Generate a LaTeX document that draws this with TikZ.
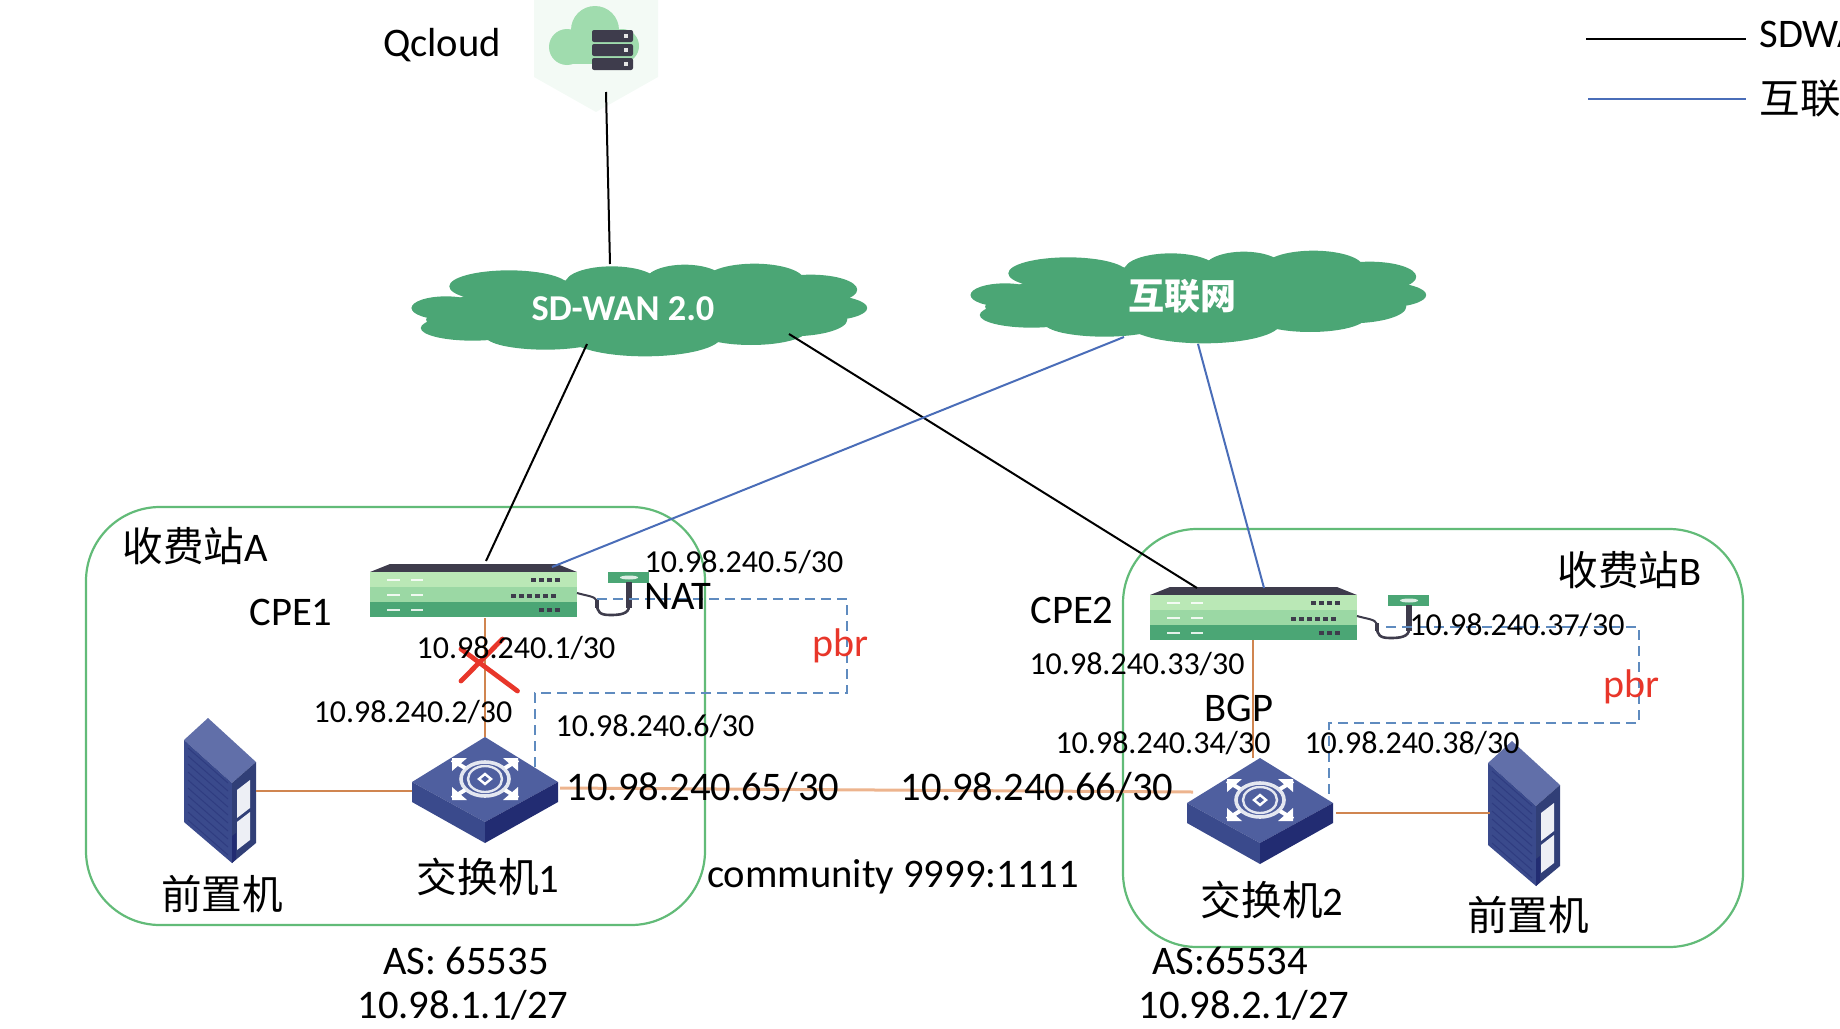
\documentclass[tikz,border=0pt]{standalone}
\usepackage{fontspec}
\setmainfont{Carlito}
\newfontfamily\cjk{Noto Sans CJK SC}
\definecolor{cloudg}{HTML}{4BA675}
\definecolor{rimg}{HTML}{62BB78}
\definecolor{ora}{HTML}{D08550}
\definecolor{oral}{HTML}{EDB48E}
\definecolor{navy}{HTML}{4F5F9F}
\definecolor{navyl}{HTML}{3A4A8C}
\definecolor{navyd}{HTML}{222C72}
\definecolor{blu}{HTML}{4A6DB8}
\definecolor{dashb}{HTML}{5F8BBF}
\definecolor{dark}{HTML}{3E3C4C}
\definecolor{red1}{HTML}{E8362A}
\definecolor{rtA}{HTML}{BAE8B6}
\definecolor{rtB}{HTML}{9BD8A4}
\definecolor{qhex}{HTML}{F3FAF5}
\definecolor{qcl}{HTML}{A0DCAE}
\tikzset{
  x=0.5pt,y=-0.5pt,
  lab/.style={inner sep=0pt,font=\fontsize{16}{16}\selectfont},
  big/.style={inner sep=0pt,font=\fontsize{20.3}{20.3}\selectfont},
  pbrlab/.style={inner sep=0pt,text=red1,font=\fontsize{20}{20}\selectfont},
  wan/.style={line width=1pt,black},
  inet/.style={line width=1pt,blu},
  link/.style={line width=1.1pt,ora},
  pbrline/.style={line width=0.8pt,dashb,dash pattern=on 5pt off 3pt},
  site/.style={line width=1.1pt,rimg,rounded corners=37pt},
  cloudlobe/.style={fill=cloudg,draw=none},
  pics/cloudshape/.style={code={
    \begin{scope}[xscale=0.6633,yscale=0.3333,shift={(-361,-211)}]
      \foreach \cx/\cy/\rx/\ry in {70/205/52/35,165/140/90/48,320/130/70/50,430/125/60/50,535/122/75/50,620/150/70/45,640/205/65/38,530/270/85/46,370/290/115/60,110/265/78/38,220/290/90/40,360/210/290/95,150/240/110/55,590/240/85/50}
        \fill[cloudlobe] (\cx,\cy) ellipse [x radius=\rx,y radius=\ry];
    \end{scope}}},
  pics/routerbox/.style={code={
    \fill[dark] (0,0) -- (20,-8) -- (187,-8) -- (207,0) -- cycle;
    \fill[rtA] (0,0) rectangle (207,15);
    \fill[rtB] (0,15) rectangle (207,30);
    \fill[cloudg] (0,30) rectangle (207,45);
    \foreach \yy in {8,23,38}{
      \fill[white,opacity=.85] (17,\yy-1) rectangle (30,\yy+1);
      \fill[white,opacity=.85] (41,\yy-1) rectangle (53,\yy+1);}
    \foreach \xx in {141,149,157,165,173,181}\fill[dark] (\xx,22) rectangle +(5,4);
    \foreach \xx in {161,169,177,185}\fill[dark] (\xx,6) rectangle +(5,4);
    \foreach \xx in {169,177,185}\fill[dark] (\xx,36) rectangle +(5,4);
    \fill[cloudg] (238,0) rectangle (279,11);
    \fill[white,opacity=.8] (259,5.5) ellipse [x radius=9,y radius=2];
    \draw[dark,line width=2.6pt] (259,10) -- (259,36);
    \draw[dark,line width=1.3pt] (259,34)
       .. controls (259,42) and (250,43) .. (240,43) .. controls (230,43) and (227,40) .. (227,32);
    \draw[dark,line width=2.4pt] (227,36) -- (227,28);
    \draw[dark,line width=1pt] (227,29) .. controls (225,24) and (217,24) .. (207,21);
  }},
  pics/switchbox/.style={code={
    \fill[navy] (0,-45) -- (73,0) -- (0,40) -- (-73,0) -- cycle;
    \fill[navyl] (-73,0) -- (0,40) -- (0,61) -- (-73,20) -- cycle;
    \fill[navyd] (73,0) -- (0,40) -- (0,61) -- (73,20) -- cycle;
    \begin{scope}[white,line width=1.2pt]
      \draw[opacity=.85] (0,-3) ellipse [x radius=17,y radius=13];
      \draw[opacity=.85,line width=1.8pt] (0,-3) ellipse [x radius=24,y radius=17];
      \draw[line width=2pt] (-33,-22) -- (-20,-14) (33,-22) -- (20,-14) (-33,16) -- (-20,8) (33,16) -- (20,8);
      \fill (-33,-24) -- (-18,-24) -- (-33,-11) -- cycle;
      \fill (33,-24) -- (18,-24) -- (33,-11) -- cycle;
      \fill (-33,18) -- (-18,18) -- (-33,5) -- cycle;
      \fill (33,18) -- (18,18) -- (33,5) -- cycle;
      \draw (-6,-3) -- (0,-8) -- (6,-3) -- (0,2) -- cycle;
    \end{scope}
  }},
  pics/serverbox/.style={code={
    \fill[navy!90!white] (0,0) -- (-24,22) -- (24,65) -- (48,44) -- cycle;
    \fill[navyl] (-24,22) -- (24,65) -- (24,145) -- (-24,104) -- cycle;
    \fill[navyl!85!black] (24,65) -- (48,44) -- (48,125) -- (24,145) -- cycle;
    \fill[white!90!navy] (29,72) -- (42,62) -- (42,90) -- (29,100) -- cycle;
    \fill[white!90!navy] (29,104) -- (42,94) -- (42,122) -- (29,132) -- cycle;
    \fill[navyd] (24,118) -- (28,115) -- (28,141) -- (24,145) -- cycle;
    \foreach \yy in {0,8,...,72}
      \draw[navyd,opacity=.45,line width=.5pt] (-20,\yy+30) -- (20,\yy+65);
  }}
}
\begin{document}
\begin{tikzpicture}
\useasboundingbox (0,0) rectangle (1840,1028);
\begin{scope}
\clip (0,0) rectangle (1840,1028);

% site frames
\node[site,draw,minimum width=309.5pt,minimum height=209pt,inner sep=0pt] (siteA) at (395.5,716) {};
\node[site,draw,minimum width=310pt,minimum height=209pt,inner sep=0pt] (siteB) at (1433,738) {};

% Qcloud icon
\fill[qhex] (534,0) -- (658,0) -- (658,77) -- (596,112) -- (534,77) -- cycle;
\fill[qcl] (595,30) circle [radius=24] (567,47) circle [radius=18] (622,46) circle [radius=17];
\fill[qcl] (567,40) rectangle (630,64);
\foreach \yy in {30,44,58}{
  \fill[dark,rounded corners=1pt] (592,\yy) rectangle (633,\yy+12);
  \fill[white!80!gray] (624,\yy+4) rectangle (628,\yy+8);}

% devices
\pic at (639,310) {cloudshape};
\pic at (1198,297) {cloudshape};
\node[inner sep=0pt,text=white,font=\fontsize{18.2}{18.2}\selectfont\bfseries] (sdwan) at (623,309) {SD-WAN 2.0};
\node[inner sep=0pt,text=white,font=\fontsize{18}{18}\cjk\bfseries] (inet) at (1182,296) {互联网};

\pic at (370,572) {routerbox};
\pic at (1150,595) {routerbox};
\pic at (485,782) {switchbox};
\pic at (1260,803) {switchbox};
\pic at (208,718) {serverbox};
\pic at (1512,741) {serverbox};

\coordinate (qc) at (606,92);
\coordinate (sdT) at (610,264);
\coordinate (sdL) at (587,344);
\coordinate (sdR) at (789,334);
\coordinate (inL) at (1124,337);
\coordinate (inB) at (1198,344);
\coordinate (cpeAw) at (486,561);
\coordinate (cpeAi) at (552,567);
\coordinate (cpeAb) at (485,618);
\coordinate (cpeBw) at (1197,588);
\coordinate (cpeBi) at (1264,588);
\coordinate (cpeBb) at (1253,640);
\coordinate (swAt) at (485,737);
\coordinate (swAl) at (412,791);
\coordinate (swAr) at (560,788);
\coordinate (swBt) at (1253,758);
\coordinate (swBl) at (1193,792);
\coordinate (swBr) at (1336,813);
\coordinate (svA) at (256,791);
\coordinate (svB) at (1490,813);
\coordinate (pA0) at (597,599);
\coordinate (pA1) at (847,599);
\coordinate (pA2) at (847,693);
\coordinate (pA3) at (535,693);
\coordinate (pA4) at (535,770);
\coordinate (pB0) at (1386,627);
\coordinate (pB1) at (1639,627);
\coordinate (pB2) at (1639,723);
\coordinate (pB3) at (1329,723);
\coordinate (pB4) at (1329,800);
\coordinate (xa) at (461,649);
\coordinate (xb) at (517.5,691);
\coordinate (xc) at (502.5,639);
\coordinate (xd) at (461,681);
\coordinate (legA) at (1586,39);
\coordinate (legB) at (1746,39);
\coordinate (legC) at (1588,99);
\coordinate (legD) at (1746,99);

% connectors
\draw[wan] (qc) -- (sdT);
\draw[wan] (sdL) -- (cpeAw);
\draw[wan] (sdR) -- (cpeBw);
\draw[inet] (inL) -- (cpeAi);
\draw[inet] (inB) -- (cpeBi);
\draw[link] (cpeAb) -- (swAt);
\draw[link] (cpeBb) -- (swBt);
\draw[link] (svA) -- (swAl);
\draw[link] (swBr) -- (svB);
\draw[line width=1.5pt,oral] (swAr) -- (swBl);
\draw[pbrline] (pA0) -- (pA1) -- (pA2) -- (pA3) -- (pA4);
\draw[pbrline] (pB0) -- (pB1) -- (pB2) -- (pB3) -- (pB4);
\draw[red1,line width=2.4pt,line cap=round] (xa) -- (xb) (xc) -- (xd);
\draw[black,line width=.8pt] (legA) -- (legB);
\draw[blu,line width=.8pt] (legC) -- (legD);

% labels
\node[big] (qclab) at (442,45) {Qcloud};
\node[big,anchor=west] (lg1) at (1759,34) {SDWAN};
\node[big,anchor=west] (lg2) at (1759,99) {\cjk 互联网};
\node[big,anchor=west] (stA) at (122,546) {{\cjk 收费站}A};
\node[big,anchor=east] (stB) at (1702,570) {{\cjk 收费站}B};
\node[big] (cpe1) at (291,612) {CPE1};
\node[big] (cpe2) at (1072,610) {CPE2};
\node[big] (nat) at (678,596) {NAT};
\node[big] (bgp) at (1239,708) {BGP};
\node[pbrlab] (pbrA) at (840,646) {pbr};
\node[pbrlab] (pbrB) at (1631,687) {pbr};
\node[lab] (i1) at (516,648) {10.98.240.1/30};
\node[lab] (i2) at (413,712) {10.98.240.2/30};
\node[lab] (i5) at (744,562) {10.98.240.5/30};
\node[lab] (i6) at (655,726) {10.98.240.6/30};
\node[lab] (i33) at (1137,664) {10.98.240.33/30};
\node[lab] (i34) at (1163,743) {10.98.240.34/30};
\node[lab] (i37) at (1517,625) {10.98.240.37/30};
\node[lab] (i38) at (1412,743) {10.98.240.38/30};
\node[big] (i65) at (703,787) {10.98.240.65/30};
\node[big] (i66) at (1037,787) {10.98.240.66/30};
\node[big] (comm) at (893,877) {community 9999:1111};
\node[big] (sw1) at (488,877) {{\cjk 交换机}1};
\node[big] (sw2) at (1272,900) {{\cjk 交换机}2};
\node[big] (sv1) at (222,894) {\cjk 前置机};
\node[big] (sv2) at (1528,915) {\cjk 前置机};
\node[big] (as1) at (466,961) {AS: 65535};
\node[big] (net1) at (463,1005) {10.98.1.1/27};
\node[big] (as2) at (1230,961) {AS:65534};
\node[big] (net2) at (1244,1005) {10.98.2.1/27};
\end{scope}
\end{tikzpicture}
\end{document}
